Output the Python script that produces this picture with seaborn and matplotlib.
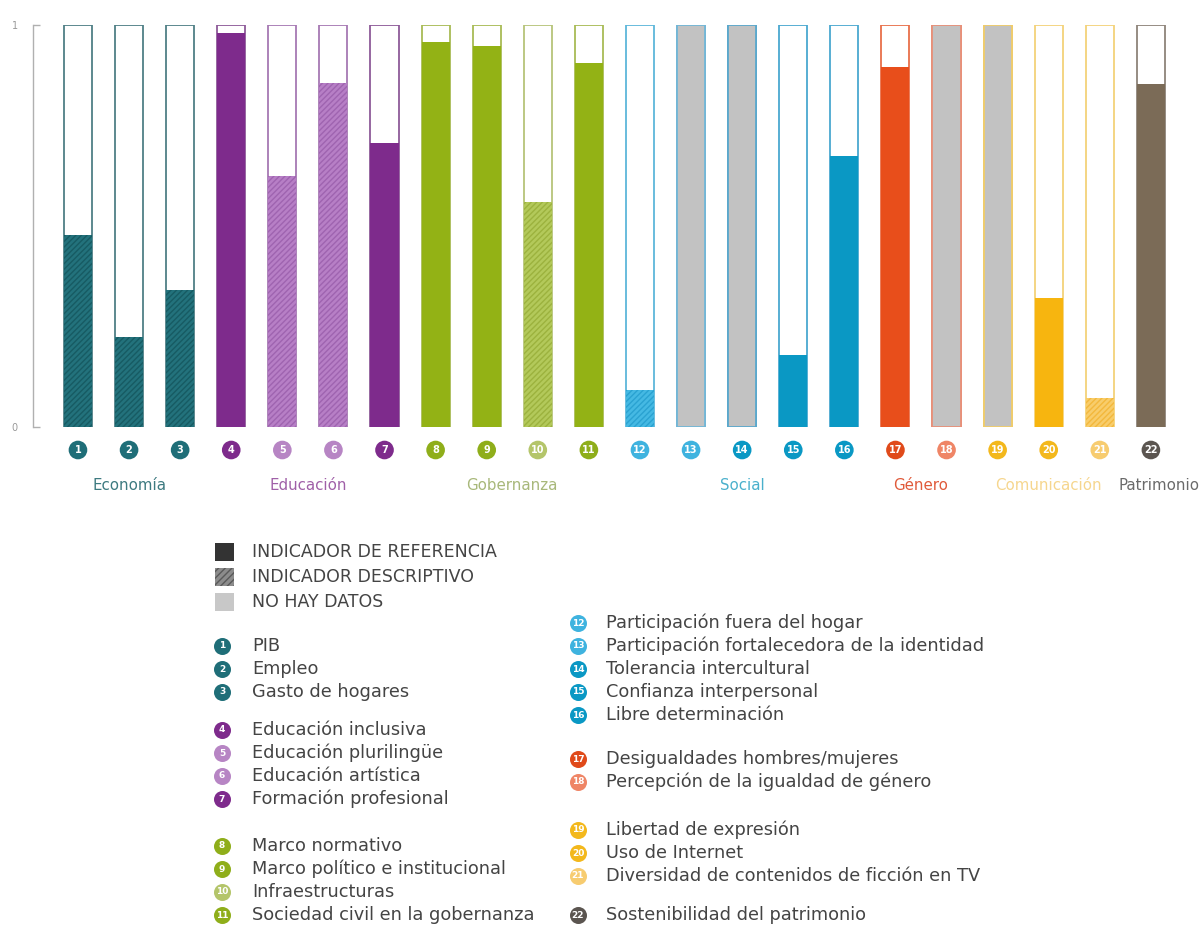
import numpy as np
import pandas as pd
import matplotlib
matplotlib.use("Agg")
import matplotlib.pyplot as plt
from matplotlib.patches import Rectangle
import seaborn as sns

# datos
indicadores = [str(i) for i in range(1, 23)]
valores = [0.478, 0.224, 0.341, 0.98, 0.624, 0.856, 0.706, 0.958, 0.948, 0.56, 0.905,
           0.092, 1.0, 1.0, 0.18, 0.674, 0.896, 1.0, 1.0, 0.32, 0.073, 0.853]
# R = referencia, D = descriptivo, N = no hay datos
tipo = ["D", "D", "D", "R", "D", "D", "R", "R", "R", "D", "R",
        "D", "N", "N", "R", "R", "R", "N", "N", "R", "D", "R"]

color_relleno = ["#23727c", "#23727c", "#23727c", "#7e2b8c", "#b77fc6", "#b77fc6", "#7e2b8c",
                 "#93b215", "#93b215", "#b3c95a", "#93b215",
                 "#45b9e3", "#c2c2c2", "#c2c2c2", "#0a98c4", "#0a98c4",
                 "#e84e1b", "#c2c2c2", "#c2c2c2", "#f7b50f", "#f8cd6b", "#7b6b57"]
color_trama = ["#175b63", "#175b63", "#175b63", None, "#9f64b0", "#9f64b0", None,
               None, None, "#9cb23e", None,
               "#2aa2d1", None, None, None, None,
               None, None, None, None, "#f3b83c", None]
color_borde = ["#4f7f86", "#4f7f86", "#4f7f86", "#8d5a98", "#a678b3", "#a678b3", "#8d5a98",
               "#a8bb55", "#a8bb55", "#b6c47a", "#a8bb55",
               "#5db6da", "#72b6d6", "#5aa8cc", "#4aa8d0", "#4aa8d0",
               "#e8704a", "#e89078", "#f0cc6a", "#f3d27a", "#f3d27a", "#8e847a"]
color_circulo = ["#1f6e78", "#1f6e78", "#1f6e78", "#7e2b8c", "#b785c4", "#b785c4", "#7e2b8c",
                 "#8fae1a", "#8fae1a", "#b4c56a", "#8fae1a",
                 "#3fb3df", "#3fb3df", "#0a98c4", "#0a98c4", "#0a98c4",
                 "#e04a1a", "#ef8566", "#f3b81c", "#f3b81c", "#f7cc70", "#5b5550"]

grupos = ["Economía", "Educación", "Gobernanza", "Social", "Género", "Comunicación", "Patrimonio"]
grupo_ini = [0, 3, 7, 11, 16, 18, 21]
grupo_fin = [2, 6, 10, 15, 17, 20, 21]
grupo_color = ["#3d7a80", "#a060a8", "#a8b87a", "#4ab0cc", "#e05a3a", "#f6d68e", "#6a6a6a"]

nombres = ["PIB", "Empleo", "Gasto de hogares",
           "Educación inclusiva", "Educación plurilingüe", "Educación artística", "Formación profesional",
           "Marco normativo", "Marco político e institucional", "Infraestructuras",
           "Sociedad civil en la gobernanza",
           "Participación fuera del hogar", "Participación fortalecedora de la identidad",
           "Tolerancia intercultural", "Confianza interpersonal", "Libre determinación",
           "Desigualdades hombres/mujeres", "Percepción de la igualdad de género",
           "Libertad de expresión", "Uso de Internet", "Diversidad de contenidos de ficción en TV",
           "Sostenibilidad del patrimonio"]

leyenda_tipos = ["INDICADOR DE REFERENCIA", "INDICADOR DESCRIPTIVO", "NO HAY DATOS"]

df = pd.DataFrame({"ind": indicadores, "valor": valores, "tipo": tipo})
df["total"] = 1.0

sns.set_style("white")
plt.rcParams["font.family"] = ["DejaVu Sans"]
plt.rcParams["hatch.linewidth"] = 1.0

W, H = 1202, 927
fig = plt.figure(figsize=(W / 100, H / 100), dpi=100)
ax = fig.add_axes([33 / W, (H - 427) / H, (W - 33) / W, 402 / H])

# contorno (barra completa)
sns.barplot(data=df, x="ind", y="total", order=indicadores, color="white",
            width=0.55, ax=ax, saturation=1)
n0 = len(ax.patches)
for p in ax.patches:
    i = int(round(p.get_x() + p.get_width() / 2))
    p.set_facecolor("white")
    p.set_edgecolor(color_borde[i])
    p.set_linewidth(1.3)

# relleno
pal = dict(zip(indicadores, color_relleno))
sns.barplot(data=df, x="ind", y="valor", order=indicadores, hue="ind", hue_order=indicadores,
            palette=pal, width=0.55, dodge=False, legend=False, ax=ax, saturation=1)
for p in ax.patches[n0:]:
    i = int(round(p.get_x() + p.get_width() / 2))
    p.set_facecolor(color_relleno[i])
    if tipo[i] == "D":
        p.set_edgecolor(color_trama[i])
        p.set_hatch("//////")
        p.set_linewidth(0)
    elif tipo[i] == "N":
        p.set_edgecolor(color_borde[i])
        p.set_linewidth(1.3)
    else:
        p.set_edgecolor(color_relleno[i])
        p.set_linewidth(0)

ax.set_xlim(-0.88, 22.0)
ax.set_ylim(0, 1)
ax.set_xlabel("")
ax.set_ylabel("")
ax.set_xticks([])
ax.set_yticks([0, 1])
ax.set_yticklabels(["0", "1"])
ax.tick_params(axis="y", direction="in", length=5, width=1, color="#b0b0b0",
               labelsize=7, labelcolor="#999999", pad=11, left=True)
for s in ["top", "right", "bottom"]:
    ax.spines[s].set_visible(False)
ax.spines["left"].set_color("#b0b0b0")
ax.spines["left"].set_linewidth(1)
ax.patch.set_alpha(0)

# círculos numerados bajo las barras
xs = np.arange(len(indicadores))
y_circ = -23 / 402
ax.scatter(xs, [y_circ] * len(xs), s=180, c=color_circulo, clip_on=False, linewidths=0, zorder=5)
for i, lab in enumerate(indicadores):
    ax.text(i, y_circ, lab, ha="center", va="center", color="white", fontsize=7,
            fontweight="bold", clip_on=False, zorder=6)

# nombres de grupo
y_grp = -58 / 402
for g, a, b, c in zip(grupos, grupo_ini, grupo_fin, grupo_color):
    xc = (a + b) / 2 if g != "Patrimonio" else b + 0.15
    ax.text(xc, y_grp, g, ha="center", va="center", color=c, fontsize=10.8, clip_on=False)

# leyenda (coordenadas en píxeles)
lg = fig.add_axes([0, 0, 1, 1])
lg.set_xlim(0, W)
lg.set_ylim(H, 0)
lg.axis("off")

tipo_y = [552, 577, 602]
tipo_face = ["#333333", "#8c8c8c", "#c8c8c8"]
tipo_hatch = [None, "/////", None]
for k, (t, yy) in enumerate(zip(leyenda_tipos, tipo_y)):
    r = Rectangle((215, yy - 9), 19, 18, facecolor=tipo_face[k],
                  edgecolor="#5a5a5a" if tipo_hatch[k] else tipo_face[k],
                  hatch=tipo_hatch[k], linewidth=0)
    lg.add_patch(r)
    lg.text(252, yy, t, va="center", ha="left", fontsize=12.5, color="#444444")

# filas de indicadores
inicio_y = {0: 646, 3: 730, 7: 846, 11: 623, 16: 759, 18: 830, 21: 915}
paso = 23
ly = []
for a, b in zip(grupo_ini, grupo_fin):
    for j in range(a, b + 1):
        ly.append(inicio_y[a] + (j - a) * paso)
for i, nom in enumerate(nombres):
    cx, tx = (222, 252) if i < 11 else (578, 606)
    lg.scatter([cx], [ly[i]], s=150, c=[color_circulo[i]], linewidths=0, zorder=5)
    lg.text(cx, ly[i], indicadores[i], ha="center", va="center", color="white",
            fontsize=6.5, fontweight="bold", zorder=6)
    lg.text(tx, ly[i], nom, ha="left", va="center", fontsize=12.8, color="#444444")

fig.savefig("out.png", dpi=100)
